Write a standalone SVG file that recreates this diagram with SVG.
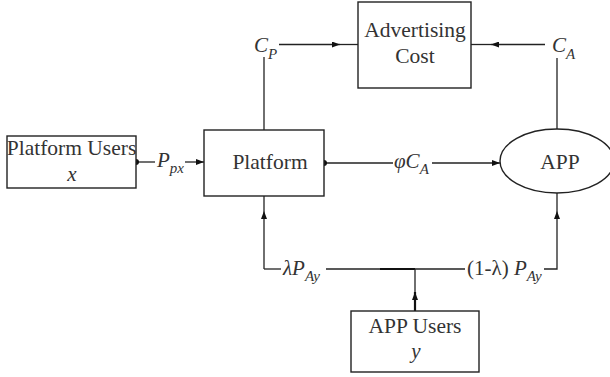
<svg xmlns="http://www.w3.org/2000/svg" width="610" height="377" viewBox="0 0 610 377">
<style>
.box{fill:#fff;stroke:#222;stroke-width:1.4}
.ln{fill:none;stroke:#222;stroke-width:1.3}
.thick{fill:none;stroke:#111;stroke-width:2.2}
.t{font-family:"Liberation Serif",serif;font-size:21.5px;fill:#333;text-anchor:middle}
.m{font-family:"Liberation Serif",serif;font-size:21px;font-style:italic;fill:#333}
.s{font-size:15px}
.dot{fill:#111}
</style>
<defs>
<marker id="arr" markerUnits="userSpaceOnUse" viewBox="0 0 8 6" refX="8" refY="3" markerWidth="8" markerHeight="6" orient="auto">
<path d="M0,0 L8,3 L0,6 z" fill="#111"/>
</marker>
</defs>
<g id="connectors">
<path class="ln" d="M136,162 H155"/>
<path class="ln" d="M185,162 H204" marker-end="url(#arr)"/>
<path class="ln" d="M264,130 V57"/>
<path class="ln" d="M279,44.5 H340" marker-end="url(#arr)"/>
<path class="ln" d="M340,44.5 H358"/>
<path class="ln" d="M557,129 V58"/>
<path class="ln" d="M545,44.5 H491" marker-end="url(#arr)"/>
<path class="ln" d="M491,44.5 H471"/>
<path class="ln" d="M324,163 H393"/>
<path class="ln" d="M432,163 H500" marker-end="url(#arr)"/>
<path class="ln" d="M264,269 V211" marker-end="url(#arr)"/>
<path class="ln" d="M264,211 V196"/>
<path class="ln" d="M264,269 H281"/>
<path class="ln" d="M326,269 H465"/>
<path class="thick" d="M380,269 H415"/>
<path class="ln" d="M544,269 H557 V211" marker-end="url(#arr)"/>
<path class="ln" d="M557,211 V193"/>
<path class="thick" d="M415,311 V292" marker-end="url(#arr)"/>
<path class="ln" d="M415,292 V269"/>
<circle class="dot" cx="136" cy="162" r="3"/>
<circle class="dot" cx="324" cy="163" r="3"/>
<text class="m" x="157" y="167">P<tspan class="s" dy="6">px</tspan></text>
<text class="m" x="254" y="52">C<tspan class="s" dy="7">P</tspan></text>
<text class="m" x="552" y="52">C<tspan class="s" dy="7">A</tspan></text>
<text class="m" x="394" y="168">φC<tspan class="s" dy="6">A</tspan></text>
<text class="m" x="283" y="275">λP<tspan class="s" dy="6">Ay</tspan></text>
<text class="m" x="467" y="275"><tspan font-style="normal">(1-λ) </tspan>P<tspan class="s" dy="6">Ay</tspan></text>
</g>
<g id="platform-users">
<rect class="box" x="7" y="136" width="129" height="52"/>
<text class="t" x="71.5" y="155">Platform Users</text>
<text class="m" x="72" y="181" text-anchor="middle">x</text>
</g>
<g id="platform">
<rect class="box" x="204" y="130" width="120" height="66"/>
<text class="t" x="270" y="169">Platform</text>
</g>
<g id="advertising-cost">
<rect class="box" x="358" y="2" width="113" height="86"/>
<text class="t" x="415" y="37">Advertising</text>
<text class="t" x="415" y="63">Cost</text>
</g>
<g id="app">
<ellipse class="box" cx="557" cy="161" rx="57" ry="32"/>
<text class="t" x="560" y="169">APP</text>
</g>
<g id="app-users">
<rect class="box" x="351" y="311" width="128" height="61"/>
<text class="t" x="415" y="333">APP Users</text>
<text class="m" x="416" y="358" text-anchor="middle">y</text>
</g>
</svg>
